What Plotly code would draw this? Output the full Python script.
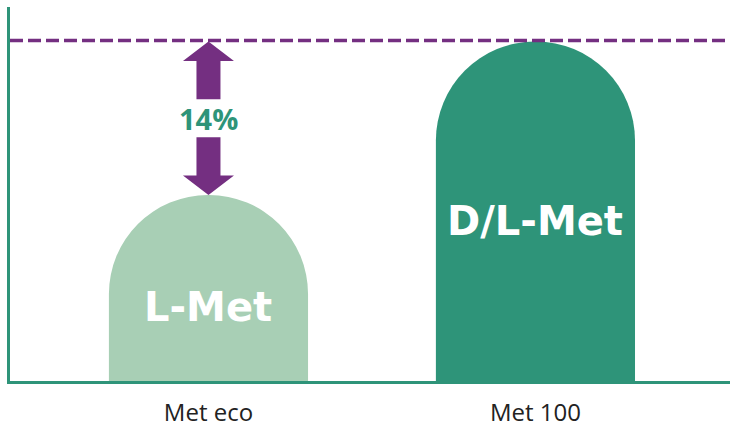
import plotly.graph_objects as go

# ---- data ----
categories = ["Met eco", "Met 100"]
values = [86, 100]              # relative methionine efficacy
bar_labels = ["L-Met", "D/L-Met"]
reference_value = 100

# ---- styles ----
LIGHT = "#a8cfb5"
DARK = "#2e9479"
PURPLE = "#742f81"
AXIS = "#2e9479"
bar_colors = [LIGHT, DARK]

Y_MIN, Y_MAX = 69.03, 103.15
X_MIN, X_MAX = -0.607, 1.595
BAR_W = 0.609

fig = go.Figure()
fig.add_trace(go.Bar(
    x=categories, y=values,
    width=BAR_W,
    marker=dict(color=bar_colors, line=dict(width=0), cornerradius="50%"),
    hoverinfo="skip",
))

# dashed reference line
fig.add_shape(type="line", xref="paper", x0=0, x1=1, yref="y",
              y0=reference_value + 0.1, y1=reference_value + 0.1,
              line=dict(color=PURPLE, width=3.5, dash="13px,5px"), layer="above")

# double-headed block arrow between the two levels (centred on first bar)
top = reference_value
bot = values[0]
span = top - bot
mid = (top + bot) / 2
cx = 0
head_hw = 0.078
shaft_hw = 0.0367
head_len = 0.127 * span
gap = 0.124 * span

up = (f"M {cx},{top} L {cx+head_hw},{top-head_len} L {cx+shaft_hw},{top-head_len} "
      f"L {cx+shaft_hw},{mid+gap} L {cx-shaft_hw},{mid+gap} L {cx-shaft_hw},{top-head_len} "
      f"L {cx-head_hw},{top-head_len} Z")
down = (f"M {cx},{bot} L {cx+head_hw},{bot+head_len} L {cx+shaft_hw},{bot+head_len} "
        f"L {cx+shaft_hw},{mid-gap} L {cx-shaft_hw},{mid-gap} L {cx-shaft_hw},{bot+head_len} "
        f"L {cx-head_hw},{bot+head_len} Z")
for p in (up, down):
    fig.add_shape(type="path", path=p, xref="x", yref="y",
                  fillcolor=PURPLE, line=dict(width=0), layer="above")

diff_pct = round((reference_value - values[0]) / reference_value * 100)
fig.add_annotation(x=cx, y=mid, xref="x", yref="y", text=f"<b>{diff_pct}%</b>",
                   showarrow=False,
                   font=dict(family="Open Sans", size=29, color=DARK))

label_y = [75.74, 83.63]
for i, (lab, ly) in enumerate(zip(bar_labels, label_y)):
    fig.add_annotation(x=i, y=ly, xref="x", yref="y", text=f"<b>{lab}</b>",
                       showarrow=False,
                       font=dict(family="DejaVu Sans", size=40, color="white"))

fig.update_layout(
    width=730, height=428,
    margin=dict(l=10, r=0, t=7, b=47),
    paper_bgcolor="white", plot_bgcolor="white",
    showlegend=False,
    xaxis=dict(type="category", range=[X_MIN, X_MAX], showline=True,
               linecolor=AXIS, linewidth=3, showgrid=False, zeroline=False,
               ticks="", ticklabelstandoff=8,
               tickfont=dict(family="Open Sans", size=24, color="#222222"),
               fixedrange=True),
    yaxis=dict(range=[Y_MIN, Y_MAX], showline=True, linecolor=AXIS, linewidth=3,
               showgrid=False, zeroline=False, showticklabels=False, ticks="",
               fixedrange=True),
)

fig.write_html("out.html", config={"displayModeBar": False})
